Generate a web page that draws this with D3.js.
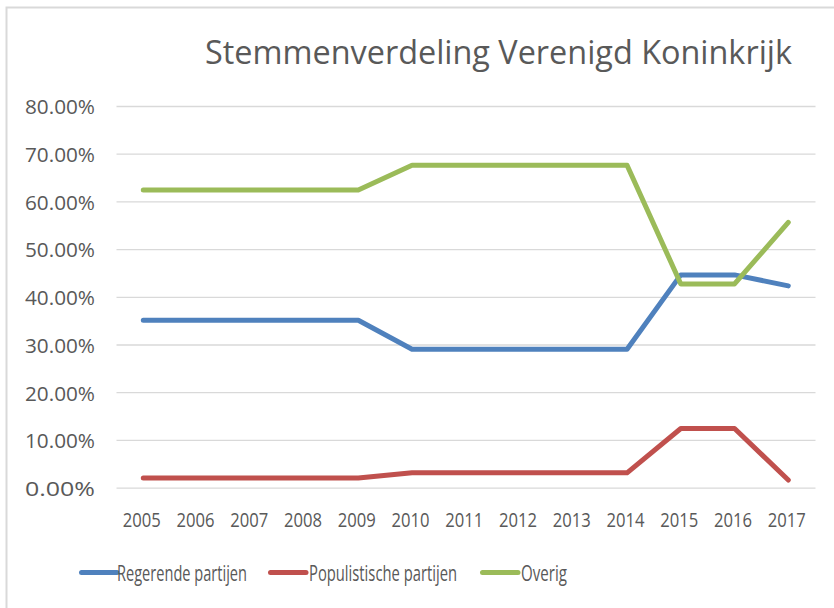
<!DOCTYPE html>
<html>
<head>
<meta charset="utf-8">
<script src="https://cdnjs.cloudflare.com/ajax/libs/d3/7.8.5/d3.min.js"></script>
<style>
  body { margin: 0; background: #fff; }
  text { font-family: "Open Sans", "Noto Sans", sans-serif; fill: #595959; }
</style>
</head>
<body>
<div id="chart"></div>
<script>
const width = 834, height = 608;

const years = ["2005", "2006", "2007", "2008", "2009", "2010", "2011", "2012", "2013", "2014", "2015", "2016", "2017"];
const regerende = [35.2, 35.2, 35.2, 35.2, 35.2, 29.1, 29.1, 29.1, 29.1, 29.1, 44.7, 44.7, 42.4];
const populistische = [2.1, 2.1, 2.1, 2.1, 2.1, 3.2, 3.2, 3.2, 3.2, 3.2, 12.5, 12.5, 1.7];
const overig = [62.5, 62.5, 62.5, 62.5, 62.5, 67.7, 67.7, 67.7, 67.7, 67.7, 42.8, 42.8, 55.7];
const yTicks = [0, 10, 20, 30, 40, 50, 60, 70, 80];

const series = [
  { name: "Regerende partijen", values: regerende, color: "#4f81bd" },
  { name: "Populistische partijen", values: populistische, color: "#c0504d" },
  { name: "Overig", values: overig, color: "#9bbb59" }
];

const svg = d3.select("#chart").append("svg")
  .attr("width", width)
  .attr("height", height);

// chart border
svg.append("rect")
  .attr("x", 6.5).attr("y", 7.5)
  .attr("width", 900).attr("height", 700)
  .attr("fill", "none")
  .attr("stroke", "#d9d9d9")
  .attr("stroke-width", 2);

const x = d3.scalePoint().domain(years).range([143.3, 788.3]);
const y = d3.scaleLinear().domain([0, 80]).range([488.1, 106.5]);

// gridlines
svg.append("g")
  .selectAll("line")
  .data(yTicks)
  .enter()
  .append("line")
  .attr("x1", 116.5).attr("x2", 815.5)
  .attr("y1", d => y(d)).attr("y2", d => y(d))
  .attr("stroke", "#d9d9d9")
  .attr("stroke-width", 1.3);

// y labels (narrow font in the original, so fit the width)
svg.append("g")
  .selectAll("text")
  .data(yTicks)
  .enter()
  .append("text")
  .attr("x", 95)
  .attr("y", d => y(d) + 7.8)
  .attr("text-anchor", "end")
  .attr("textLength", 70)
  .attr("lengthAdjust", "spacingAndGlyphs")
  .style("font-size", "20.5px")
  .text(d => d.toFixed(2) + "%");

// x labels
svg.append("g")
  .selectAll("text")
  .data(years)
  .enter()
  .append("text")
  .attr("x", d => x(d) - 1.5)
  .attr("y", 526.5)
  .attr("text-anchor", "middle")
  .attr("textLength", 38)
  .attr("lengthAdjust", "spacingAndGlyphs")
  .style("font-size", "20.5px")
  .text(d => d);

const line = d3.line()
  .x((d, i) => x(years[i]))
  .y(d => y(d));

svg.append("g")
  .selectAll("path")
  .data(series)
  .enter()
  .append("path")
  .attr("d", d => line(d.values))
  .attr("fill", "none")
  .attr("stroke", d => d.color)
  .attr("stroke-width", 5)
  .attr("stroke-linecap", "round")
  .attr("stroke-linejoin", "round");

// title
svg.append("text")
  .attr("x", 205)
  .attr("y", 64)
  .attr("textLength", 587)
  .attr("lengthAdjust", "spacingAndGlyphs")
  .style("font-size", "32.5px")
  .text("Stemmenverdeling Verenigd Koninkrijk");

// legend
const legendX = [80, 269, 481];
const legendW = [130, 148, 46];
const legend = svg.append("g")
  .selectAll("g")
  .data(series)
  .enter()
  .append("g")
  .attr("transform", (d, i) => `translate(${legendX[i]},572.5)`);

legend.append("line")
  .attr("x1", 1.5).attr("x2", 37)
  .attr("y1", 0).attr("y2", 0)
  .attr("stroke", d => d.color)
  .attr("stroke-width", 5)
  .attr("stroke-linecap", "round");

legend.append("text")
  .attr("x", d => d.name === "Regerende partijen" ? 37 : 40)
  .attr("y", 8)
  .attr("textLength", (d, i) => legendW[i])
  .attr("lengthAdjust", "spacingAndGlyphs")
  .style("font-size", "21px")
  .text(d => d.name);
</script>
</body>
</html>
